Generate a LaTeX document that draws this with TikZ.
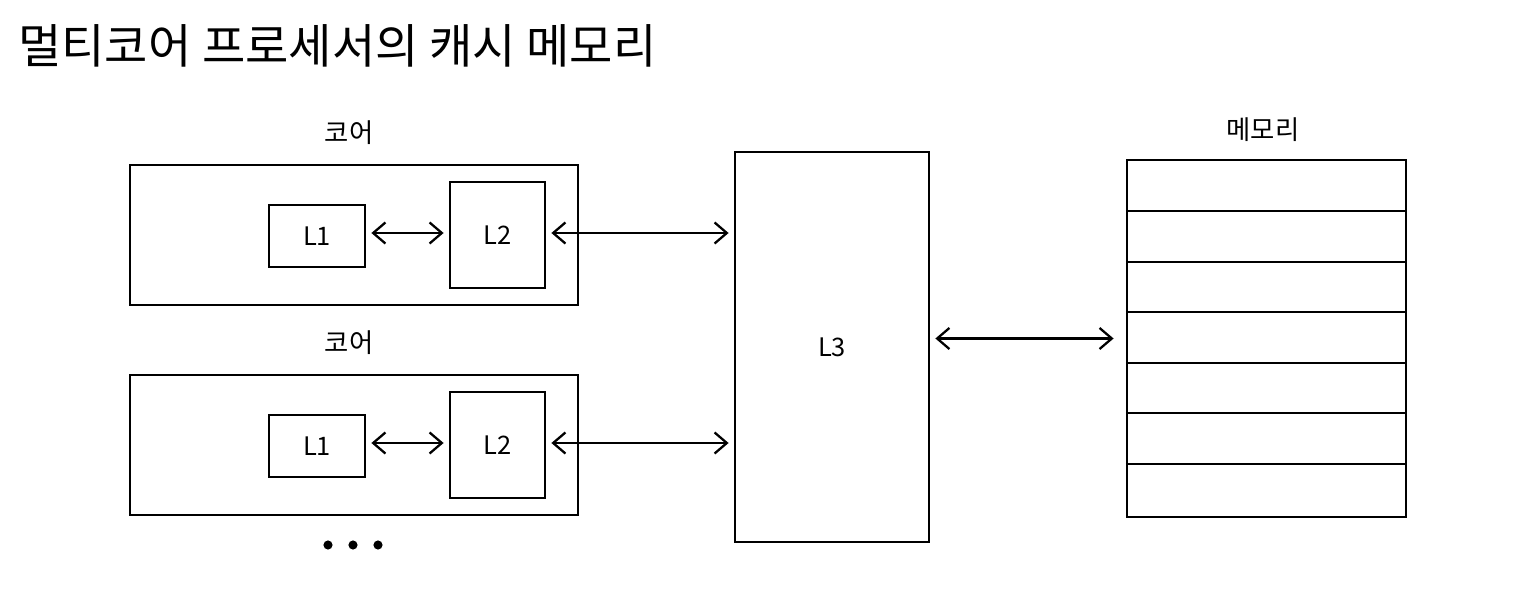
\documentclass[tikz,border=0pt]{standalone}
\usepackage{fontspec}
\setmainfont{Noto Sans CJK KR}
\usepackage{tikz}
\usetikzlibrary{arrows.meta,calc}

\tikzset{
    box/.style={draw, line width=1.3pt, inner sep=0pt, font=\fontsize{14.5}{16}\selectfont},
    link/.style={{Straight Barb[length=7pt,width=12pt]}-{Straight Barb[length=7pt,width=12pt]}, line width=1.3pt},
    tag/.style={font=\fontsize{15}{17}\selectfont}
}

\begin{document}
\begin{tikzpicture}[x=0.02cm, y=-0.02cm]
    \useasboundingbox (0, 0) rectangle (1522, 605);

    % 제목
    \node[anchor=west, inner sep=0pt, font=\fontsize{26.8}{30}\selectfont] (title) at (18, 46) {멀티코어 프로세서의 캐시 메모리};

    % 첫 번째 코어
    \node[box, minimum width=8.96cm, minimum height=2.8cm] (core1) at (354, 235) {};
    \node[tag] (core1tag) at (349, 133) {코어};
    \node[box, minimum width=1.92cm, minimum height=1.24cm] (l1a) at (317, 236) {L1};
    \node[box, minimum width=1.9cm, minimum height=2.12cm] (l2a) at (497.5, 235) {L2};

    % 두 번째 코어
    \node[box, minimum width=8.96cm, minimum height=2.8cm] (core2) at (354, 445) {};
    \node[tag] (core2tag) at (349, 343) {코어};
    \node[box, minimum width=1.92cm, minimum height=1.24cm] (l1b) at (317, 446) {L1};
    \node[box, minimum width=1.9cm, minimum height=2.12cm] (l2b) at (497.5, 445) {L2};

    % 생략 표시
    \foreach \x in {328, 353, 378} {
        \fill (\x, 545) circle (2.6pt);
    }

    % L3
    \node[box, minimum width=3.88cm, minimum height=7.8cm] (l3) at (832, 347) {L3};

    % 메모리
    \node[box, minimum width=5.58cm, minimum height=7.14cm] (mem) at (1266.5, 338.5) {};
    \node[tag] (memtag) at (1263, 130) {메모리};
    \foreach \y in {211, 262, 312, 363, 413, 464} {
        \draw[line width=1.3pt] (mem.west |- 0, \y) -- (mem.east |- 0, \y);
    }

    % 화살표
    \draw[link, shorten <=3pt, shorten >=3pt] (l1a.east |- 0, 233) -- (l2a.west |- 0, 233);
    \draw[link, shorten <=3pt, shorten >=3pt] (l2a.east |- 0, 233) -- (l3.west |- 0, 233);
    \draw[link, shorten <=3pt, shorten >=3pt] (l1b.east |- 0, 443) -- (l2b.west |- 0, 443);
    \draw[link, shorten <=3pt, shorten >=3pt] (l2b.east |- 0, 443) -- (l3.west |- 0, 443);
    \draw[link, shorten <=3pt, shorten >=7pt] (l3.east |- mem.west) -- (mem.west);
\end{tikzpicture}
\end{document}
